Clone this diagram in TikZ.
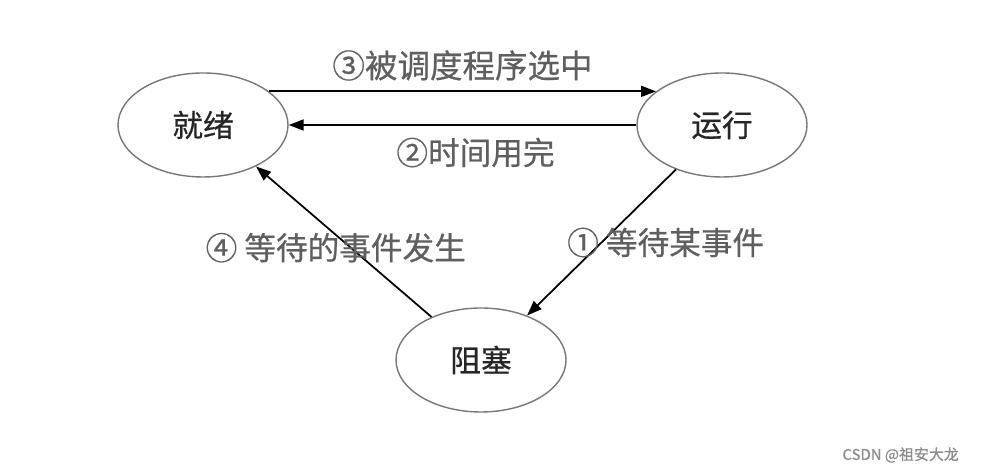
\documentclass[tikz,border=0pt]{standalone}
\usepackage{fontspec}
\newfontfamily\cjkfont[FakeBold=0.6]{Noto Sans CJK SC}
\usepackage{xcolor}
\usepackage{tikz}
\usetikzlibrary{shapes.geometric, arrows.meta, positioning}
\definecolor{labelgray}{RGB}{95, 95, 95}
\definecolor{rimgray}{RGB}{120, 120, 120}

\begin{document}
\begin{tikzpicture}[
        state/.style={ellipse, draw=rimgray, line width=0.8pt, fill=white, font=\cjkfont\fontsize{17.5}{20}\selectfont, text=black!85, minimum width=3.4cm, minimum height=2.08cm, inner sep=0pt},
        trans/.style={-{Triangle[length=0.3cm, width=0.22cm]}, line width=1pt, color=black},
        tlabel/.style={font=\cjkfont\fontsize{18}{21}\selectfont, text=labelgray}
    ]
        \useasboundingbox (0,0) rectangle (19.64,9.48);

        % Process states
        \node[state] (ready) at (4.06, 6.98) {就绪};
        \node[state] (running) at (14.44, 6.98) {运行};
        \node[state] (blocked) at (9.62, 2.28) {阻塞};

        % Transitions
        \draw[trans] (ready.27) -- (running.153)
            node[midway, above, yshift=0.08cm, tlabel, font=\cjkfont\fontsize{18.5}{22}\selectfont] (lsched) {③被调度程序选中};
        \draw[trans] (running.west) -- (ready.east)
            node[midway, below, xshift=0.26cm, yshift=-0.12cm, tlabel] (ltime) {②时间用完};
        \draw[trans] (running.224) -- (blocked.44)
            node[midway, anchor=west, xshift=-0.82cm, tlabel] (lwait) {① 等待某事件};
        \draw[trans] (blocked.139) -- (ready.-38)
            node[midway, xshift=-0.16cm, yshift=-0.12cm, tlabel] (lwake) {④ 等待的事件发生};

        % Watermark
        \node[anchor=east, font=\cjkfont\fontsize{8.5}{10}\selectfont, text=black!45] (mark) at (19.30, 0.38) {CSDN @祖安大龙};
    \end{tikzpicture}
\end{document}
